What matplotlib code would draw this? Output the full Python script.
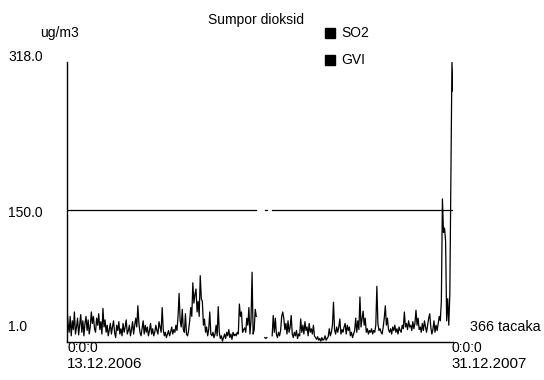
import numpy as np
import matplotlib
matplotlib.use("Agg")
import matplotlib.pyplot as plt

nan = np.nan
title = "Sumpor dioksid"
unit = "ug/m3"
series_names = ["SO2", "GVI"]
y_labels = ["318.0", "150.0", "1.0"]
start_label = ["0:0:0", "13.12.2006"]
end_label = ["0:0:0", "31.12.2007"]
count_label = "366 tacaka"
gvi_limit = 150.0

so2 = [
    40, 22, 12, 30, 8, 25, 15, 35, 10, 18, 28, 9, 20, 32, 12, 25, 8, 22, 30, 14,
    26, 10, 18, 35, 22, 30, 16, 12, 28, 20, 33, 15, 24, 10, 39, 18, 26, 12, 20, 8,
    15, 22, 10, 18, 25, 12, 6, 20, 14, 24, 10, 16, 8, 22, 12, 18, 26, 10, 14, 20,
    8, 15, 24, 10, 20, 28, 18, 42, 22, 12, 8, 16, 25, 10, 20, 12, 18, 8, 14, 22,
    10, 16, 8, 12, 20, 14, 10, 24, 18, 12, 40, 15, 8, 12, 6, 10, 14, 8, 12, 18,
    10, 15, 12, 20, 14, 30, 56, 25, 18, 38, 15, 12, 33, 10, 8, 14, 25, 40, 30, 68,
    45, 55, 61, 35, 47, 30, 76, 50, 47, 20, 27, 12, 18, 8, 15, 35, 10, 8, 12, 6,
    10, 20, 8, 41, 12, 5, 8, 2, 6, 10, 5, 12, 8, 15, 6, 10, 4, 12, 8, 10,
    8, 12, 10, 44, 30, 35, 12, 15, 17, 12, 28, 20, 40, 10, 25, 80, 10, 15, 38, 30,
    nan, nan, nan, nan, nan, nan, nan, 6, 5, 6, nan, nan, nan, nan, 8, 31, 12, 28, 10, 6,
    12, 8, 14, 30, 35, 28, 15, 22, 10, 25, 12, 18, 31, 10, 6, 12, 8, 14, 5, 10,
    8, 27, 12, 20, 10, 24, 14, 18, 8, 22, 12, 16, 10, 20, 8, 6, 4, 7, 3, 5,
    2, 6, 3, 4, 8, 3, 5, 7, 16, 8, 12, 20, 46, 15, 10, 18, 12, 18, 27, 10,
    15, 12, 18, 22, 10, 20, 14, 18, 8, 12, 6, 10, 14, 28, 12, 25, 15, 52, 18, 27,
    36, 20, 28, 12, 16, 10, 14, 12, 16, 10, 14, 12, 20, 64, 22, 14, 16, 12, 10, 18,
    28, 42, 20, 28, 15, 12, 16, 10, 18, 14, 20, 12, 16, 10, 18, 14, 12, 20, 16, 35,
    18, 22, 15, 25, 18, 20, 14, 24, 16, 22, 37, 20, 28, 15, 18, 12, 22, 14, 25, 18,
    12, 20, 28, 33, 18, 10, 15, 25, 12, 20, 14, 22, 30, 25, 48,
    163, 125, 130, 115, 25, 50, 20, 55, 193, 318, 285,
]
so2 = np.array(so2, dtype=float)
days = np.arange(len(so2))
gvi = np.where(np.isnan(so2), nan, gvi_limit)

W, H = 544, 380
fig = plt.figure(figsize=(W / 100, H / 100), dpi=100)
plt.rcParams['font.family'] = ['Liberation Sans', 'DejaVu Sans']

x0, x1, ytop, ybot = 67, 453, 62, 342
ax = fig.add_axes([x0 / W, (H - ybot) / H, (x1 - x0) / W, (ybot - ytop) / H])
ax.plot(days, so2, color='black', lw=0.9)
ax.plot(days, gvi, color='black', lw=0.9)
ax.set_xlim(0, len(so2) - 1)
ax.set_ylim(1, 318)
for s in ['top', 'right']:
    ax.spines[s].set_visible(False)
for s in ['left', 'bottom']:
    ax.spines[s].set_linewidth(1.0)
    ax.spines[s].set_color('black')
ax.set_xticks([])
ax.set_yticks([])

def ftext(x, y, s, ha='left', va='center', fs=10):
    fig.text(x / W, 1 - y / H, s, ha=ha, va=va, fontsize=fs, color='black')

ftext(256, 20, title, ha='center')
ftext(40, 33, unit)
for lab, yy in zip(y_labels, [57, 213, 327]):
    ftext(8, yy, lab)
ftext(67, 348, start_label[0])
ftext(67, 364, start_label[1], fs=10.8)
ftext(451, 348, end_label[0])
ftext(451, 364, end_label[1], fs=10.8)
ftext(470, 327, count_label, fs=10.4)

for name, yy in zip(series_names, [33, 60]):
    fig.patches.append(plt.Rectangle((325 / W, 1 - (yy + 5) / H), 10 / W, 10 / H,
                                     transform=fig.transFigure, color='black'))
    ftext(341, yy, name)

fig.savefig("out.png", dpi=100, facecolor='white')
